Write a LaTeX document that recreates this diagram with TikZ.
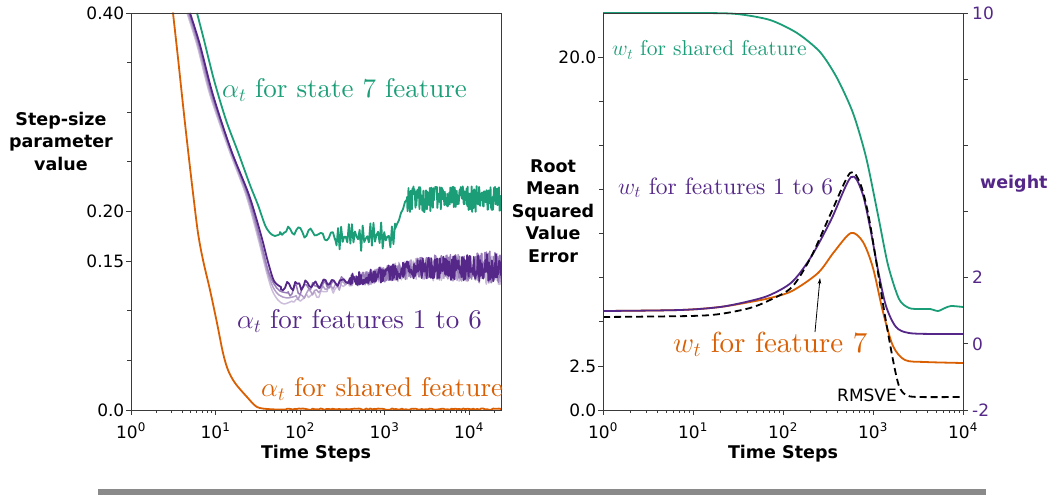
\RequirePackage{fix-cm}
\documentclass[tikz,border=0pt]{standalone}
\usepackage{fontspec}
\newfontfamily\dejavu{DejaVu Sans}
\newfontfamily\lmten{lmroman10-regular.otf}
\usetikzlibrary{arrows.meta}
\definecolor{cgreen}{HTML}{1B9E77}
\definecolor{corange}{HTML}{D95F02}
\definecolor{cpurple}{HTML}{542788}
\definecolor{cspine}{HTML}{3A3A3A}
\definecolor{cbar}{HTML}{8A8A8A}
\newcommand\ticksz{\dejavu\fontsize{17}{17}\selectfont}
\newcommand\axsz{\dejavu\bfseries\fontsize{17.5}{22.5}\selectfont}
\newcommand\labsz[1]{\lmten\fontsize{#1}{#1}\selectfont}
\begin{document}
\begin{tikzpicture}[x=1pt,y=-1pt,
  spine/.style={draw=cspine, line width=0.9pt},
  tickmark/.style={draw=cspine, line width=0.8pt},
  ticklab/.style={font=\ticksz, inner sep=0pt, text=black},
  axlab/.style={font=\axsz, inner sep=0pt, align=center},
  curve/.style={line width=1.8pt, line join=round, line cap=round},
  noisy/.style={line width=1.5pt, line join=round},
  clabel/.style={inner sep=0pt, anchor=base west}]
\pgfmathsetseed{7}
\useasboundingbox (0,0) rectangle (1058,495);

% ================= LEFT PLOT =================
\begin{scope}
\clip (131,13) rectangle (501,411);
% light purple lines
\draw[noisy, cpurple!30!white] plot[smooth,tension=0.5] coordinates {(187,13) (197,45) (210,95) (229,150) (246,195) (258,238) (266,270) (272,290) (278,300) (284,304) (292,301)}
 -- plot[domain=292:360,samples=34] (\x,{301-0.32*(\x-292)+3*sin(45*(\x-292))+3*rand})
 -- plot[domain=360:501,samples=280] (\x,{max(269,279-0.2*(\x-360))+(6+11*(\x-360)/141)*rand});
\draw[noisy, cpurple!45!white] plot[smooth,tension=0.5] coordinates {(188,13) (198,45) (211,95) (230,150) (247,195) (259,238) (267,270) (273,287) (279,295) (287,298) (296,296)}
 -- plot[domain=296:360,samples=32] (\x,{296-0.25*(\x-296)+3*sin(52*(\x-296))+3*rand})
 -- plot[domain=360:501,samples=280] (\x,{max(268,280-0.2*(\x-360))+(6+11*(\x-360)/141)*rand});
\draw[noisy, cpurple!60!white] plot[smooth,tension=0.5] coordinates {(189,13) (199,45) (212,95) (231,150) (248,195) (260,238) (268,270) (274,284) (280,291) (288,293)}
 -- plot[domain=288:360,samples=36] (\x,{292-0.2*(\x-288)+3*sin(38*(\x-288))+3*rand})
 -- plot[domain=360:501,samples=280] (\x,{max(267,279-0.2*(\x-360))+(6+11*(\x-360)/141)*rand});
% dark purple
\draw[noisy, line width=1.8pt, cpurple] plot[smooth,tension=0.5] coordinates {(190,13) (200,45) (213,95) (231,150) (249,195) (261,235) (268,262) (274,281) (281,287)}
 -- plot[domain=281:350,samples=35] (\x,{287-0.1*(\x-281)+3*sin(40*(\x-281))+2.5*rand})
 -- plot[domain=350:501,samples=300] (\x,{max(268,280-0.17*(\x-350))+(6+9*(\x-350)/151)*rand});
% green
\draw[noisy, line width=1.8pt, cgreen] plot[smooth,tension=0.5] coordinates {(197,13) (204,40) (214,80) (226,120) (238,152) (250,185) (258,205) (265,225) (270,233) (275,236) (280,234)}
 -- plot[domain=280:335,samples=28] (\x,{230+0.12*(\x-280)+3.5*sin(33*(\x-280))+2.5*rand})
 -- plot[domain=335:395,samples=40] (\x,{237+11*sin(100*(\x-335))+5*rand})
 -- plot[domain=395:407,samples=7] (\x,{232-34*(\x-395)/12+3*rand})
 -- plot[domain=407:501,samples=190] (\x,{199+13*rand});
% orange
\draw[curve, corange] plot[smooth,tension=0.5] coordinates {(173,13) (178,58) (183,105) (188,150) (193,193) (198,233) (203,260) (210,290) (217,323) (223,353) (228,370) (235,383) (247,397) (257,407) (270,409.2) (285,409.5)}
 -- plot[domain=285:501,samples=110] (\x,{409.2+0.7*rand});
\end{scope}
% frame
\draw[spine] (131,13) rectangle (501,410);
% y ticks
\foreach \v in {0,0.05,...,0.41} { \draw[tickmark] (131,{410-992.5*\v}) -- ++(-4,0); }
\foreach \v/\t in {0.40/0.40,0.20/0.20,0.15/0.15,0/0.0} {
  \draw[tickmark] (131,{410-992.5*\v}) -- ++(-5,0);
  \node[ticklab, anchor=east] (ly\t) at (124.5,{410-992.5*\v}) {\t};
}
% x ticks
\foreach \k in {0,...,4} {
  \draw[tickmark] ({131+84.5*\k},410) -- ++(0,5);
  \node[ticklab, anchor=base] (lx\k) at ({131+84.5*\k},438) {10\textsuperscript{\k}};
  \foreach \m in {2,...,9} {
    \pgfmathsetmacro\xx{131+84.5*(\k+ln(\m)/ln(10))}
    \ifdim\xx pt<501pt \draw[tickmark, line width=0.6pt] (\xx,410) -- ++(0,2.5); \fi
  }
}
\node[axlab, anchor=base] (lxlab) at (316,458) {Time Steps};
\node[axlab] (lylab) at (61,141) {Step-size\\parameter\\value};
% curve labels
\node[clabel, text=cgreen, font=\labsz{27}] (lg) at (222,97) {$\alpha_t$ for state 7 feature};
\node[clabel, text=cpurple, font=\labsz{27}] (lp) at (237,328) {$\alpha_t$ for features 1 to 6};
\begin{scope}
\clip (0,0) rectangle (502,495);
\node[clabel, text=corange, font=\labsz{27}] (lo) at (261,396) {$\alpha_t$ for shared feature};
\end{scope}

% ================= RIGHT PLOT =================
\begin{scope}
\clip (603,12) rectangle (963,411);
\draw[curve, cgreen] plot[smooth,tension=0.45] coordinates {(603,13) (700,13) (737,14) (770,20) (797,33) (820,52) (837,78) (853,113) (866,157) (878,215) (888,265) (899,299) (909,308) (920,309) (930,309) (938,311) (945,308) (951,306) (963,307)};
\draw[curve, corange] plot[smooth,tension=0.5] coordinates {(603,311) (680,310) (720,307) (750,302) (770,298) (792,291) (818,273) (834,252) (851,233) (863,242) (873,268) (883,312) (893,346) (905,360) (925,362) (963,363)};
\draw[curve, cpurple] plot[smooth,tension=0.5] coordinates {(603,311) (680,310) (720,307) (750,301) (770,295) (792,282) (811,257) (831,220) (851,177) (862,192) (870,227) (878,270) (886,306) (896,327) (909,333) (935,334) (963,334)};
\draw[curve, black, line cap=butt, dash pattern=on 7pt off 4pt] plot[smooth,tension=0.5] coordinates {(603,317) (690,316) (720,314) (750,308) (770,300) (792,287) (811,257) (831,213) (850,173) (860,183) (868,213) (876,260) (884,310) (893,360) (899,386) (906,395) (918,397) (963,397)};
\end{scope}
\draw[spine] (603,13) rectangle (963,410);
% left y ticks
\foreach \j in {0,...,8} { \draw[tickmark] (603,{410-44.1*\j}) -- ++(-4,0); }
\foreach \j/\t in {0/0.0,1/2.5,8/20.0} {
  \draw[tickmark] (603,{410-44.1*\j}) -- ++(-5,0);
  \node[ticklab, anchor=east] (ry\j) at (596.5,{410-44.1*\j}) {\t};
}
% right y ticks (weight)
\foreach \w in {-2,0,...,10} { \draw[tickmark] (963,{410-33.08*(\w+2)}) -- ++(5,0); }
\foreach \w in {-2,0,2,10} {
  \node[ticklab, anchor=west, text=cpurple] (rw\w) at (972,{410-33.08*(\w+2)}) {\w};
}
% x ticks
\foreach \k in {0,...,4} {
  \draw[tickmark] ({603+90*\k},410) -- ++(0,5);
  \node[ticklab, anchor=base] (rx\k) at ({603+90*\k},438) {10\textsuperscript{\k}};
  \ifnum\k<4
  \foreach \m in {2,...,9} {
    \pgfmathsetmacro\xx{603+90*(\k+ln(\m)/ln(10))}
    \draw[tickmark, line width=0.6pt] (\xx,410) -- ++(0,2.5);
  }
  \fi
}
\node[axlab, anchor=base] (rxlab) at (783,458) {Time Steps};
\node[axlab] (rylab) at (553,211) {Root\\Mean\\Squared\\Value\\Error};
\node[axlab, text=cpurple, anchor=west] (rwlab) at (980,184) {weight};
% curve labels
\node[clabel, text=cgreen, font=\labsz{21.5}] (rg) at (612,56) {$w_t$ for shared feature};
\node[clabel, text=cpurple, font=\labsz{23.5}] (rp) at (618,194) {$w_t$ for features 1 to 6};
\node[clabel, text=corange, font=\labsz{29}] (ro) at (673,352) {$w_t$ for feature 7};
\node[clabel, font=\ticksz] (rms) at (837,401) {RMSVE};
\coordinate (arrS) at (815,332);
\coordinate (arrE) at (820,278);
\draw[line width=0.8pt, -{Stealth[length=6pt,width=3.5pt]}] (arrS) -- (arrE);

% bottom bar
\fill[cbar] (98,489) rectangle (986,495);
\end{tikzpicture}
\end{document}
